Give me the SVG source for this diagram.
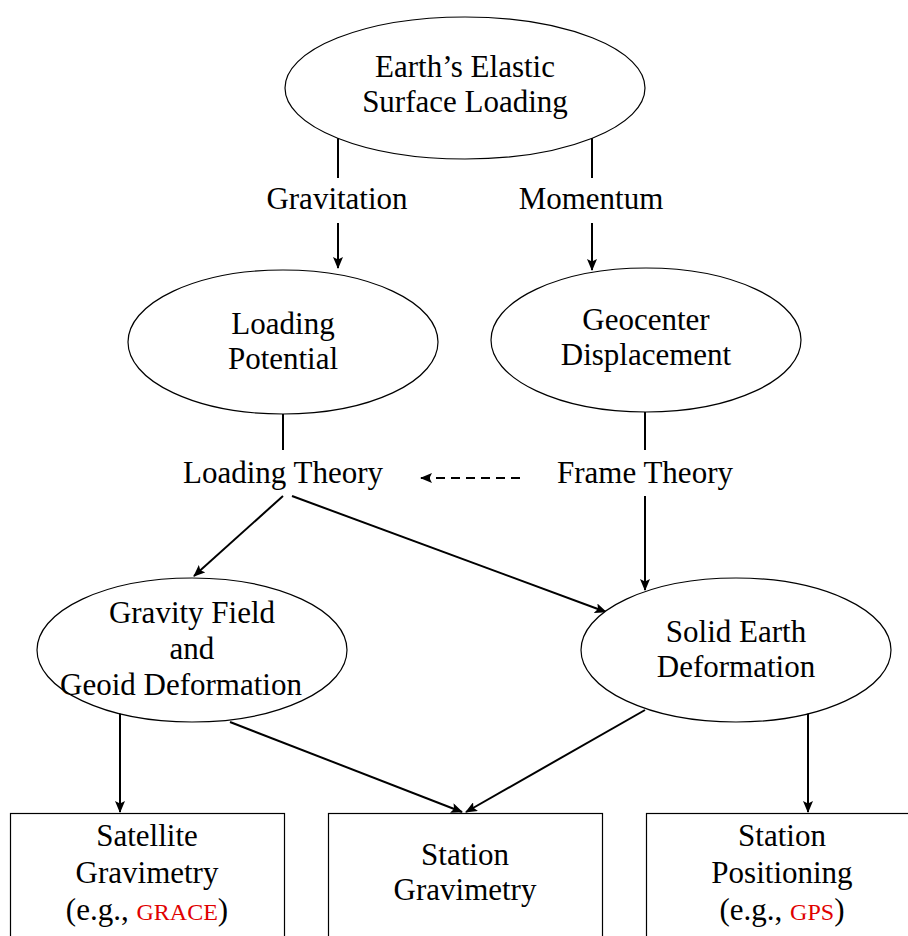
<svg xmlns="http://www.w3.org/2000/svg" width="908" height="936" viewBox="0 0 908 936">
<defs>
<marker id="ah" viewBox="0 0 12 10" refX="11" refY="5" markerWidth="12" markerHeight="10" markerUnits="userSpaceOnUse" orient="auto">
<path d="M0,0 L12,5 L0,10 L2.5,5 Z" fill="#000"/>
</marker>
</defs>
<style>
.n{fill:#fff;stroke:#000;stroke-width:1.2}
.t{font-family:"Liberation Serif","Times New Roman",serif;font-size:31px;fill:#000;text-anchor:middle}
.r{fill:#e00000;font-size:24px}
.c{stroke:#000;stroke-width:2;fill:none}
.a{stroke:#000;stroke-width:2;fill:none;marker-end:url(#ah)}
</style>
<rect width="908" height="936" fill="#fff"/>
<g id="connectors">
<line class="c" x1="338" y1="138" x2="338" y2="178"/>
<line class="a" x1="338" y1="223" x2="338" y2="268"/>
<line class="c" x1="592" y1="138" x2="592" y2="178"/>
<line class="a" x1="592" y1="223" x2="592" y2="270"/>
<line class="c" x1="283" y1="414" x2="283" y2="450"/>
<line class="c" x1="645" y1="412" x2="645" y2="450"/>
<line class="a" x1="520" y1="478" x2="421" y2="478" stroke-dasharray="9,6"/>
<line class="a" x1="645" y1="496" x2="645" y2="590"/>
<line class="a" x1="283" y1="496" x2="194" y2="576"/>
<line class="a" x1="292" y1="496" x2="606" y2="612"/>
<line class="a" x1="120" y1="712" x2="120" y2="812"/>
<line class="a" x1="230" y1="722" x2="462" y2="812"/>
<line class="a" x1="645" y1="710" x2="466" y2="812"/>
<line class="a" x1="808" y1="710" x2="808" y2="812"/>
</g>
<g id="labels">
<text class="t" x="337" y="209">Gravitation</text>
<text class="t" x="591" y="209">Momentum</text>
<text class="t" x="283" y="483">Loading Theory</text>
<text class="t" x="645" y="483">Frame Theory</text>
</g>
<g id="n1">
<ellipse class="n" cx="465" cy="88" rx="180" ry="71"/>
<text class="t" x="465" y="77">Earth’s Elastic</text>
<text class="t" x="465" y="112">Surface Loading</text>
</g>
<g id="n2">
<ellipse class="n" cx="283" cy="342" rx="155" ry="72"/>
<text class="t" x="283" y="334">Loading</text>
<text class="t" x="283" y="369">Potential</text>
</g>
<g id="n3">
<ellipse class="n" cx="646" cy="340" rx="155" ry="72"/>
<text class="t" x="646" y="330">Geocenter</text>
<text class="t" x="646" y="365">Displacement</text>
</g>
<g id="n4">
<ellipse class="n" cx="192" cy="650" rx="155" ry="72"/>
<text class="t" x="192" y="623">Gravity Field</text>
<text class="t" x="192" y="659">and</text>
<text class="t" x="181" y="695">Geoid Deformation</text>
</g>
<g id="n5">
<ellipse class="n" cx="736" cy="650" rx="155" ry="72"/>
<text class="t" x="736" y="642">Solid Earth</text>
<text class="t" x="736" y="677">Deformation</text>
</g>
<g id="n6">
<rect class="n" x="10.5" y="813.5" width="274" height="140"/>
<text class="t" x="147" y="846">Satellite</text>
<text class="t" x="147" y="883">Gravimetry</text>
<text class="t" x="147" y="920">(e.g., <tspan class="r">GRACE</tspan>)</text>
</g>
<g id="n7">
<rect class="n" x="328.5" y="813.5" width="274" height="140"/>
<text class="t" x="465" y="865">Station</text>
<text class="t" x="465" y="900">Gravimetry</text>
</g>
<g id="n8">
<rect class="n" x="646.5" y="813.5" width="274" height="140"/>
<text class="t" x="782" y="846">Station</text>
<text class="t" x="782" y="883">Positioning</text>
<text class="t" x="782" y="920">(e.g., <tspan class="r">GPS</tspan>)</text>
</g>
</svg>
